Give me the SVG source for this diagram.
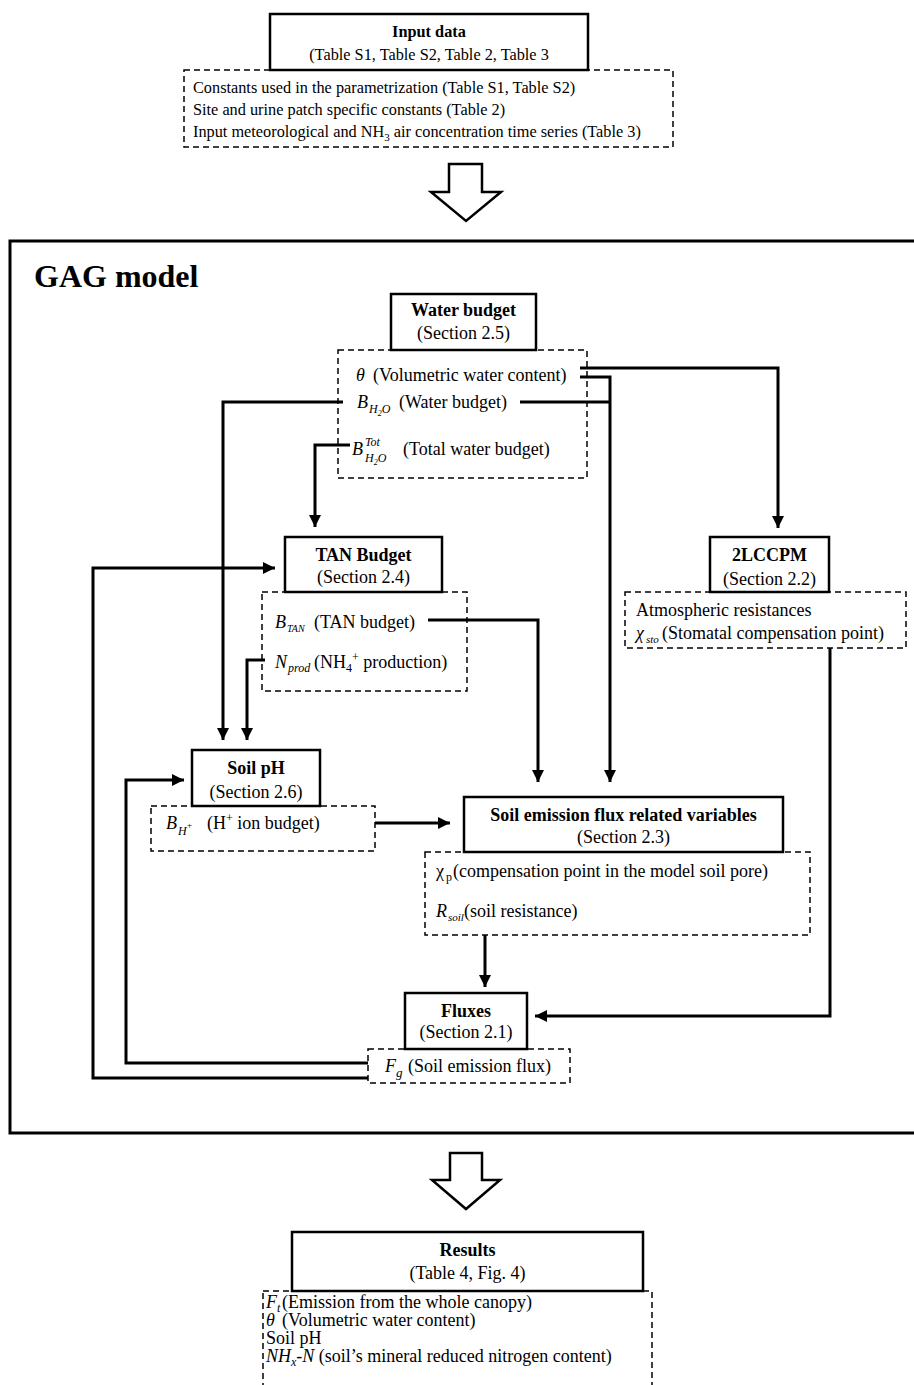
<svg xmlns="http://www.w3.org/2000/svg" width="914" height="1385" viewBox="0 0 914 1385">
<style>
.box{fill:#fff;stroke:#000;stroke-width:2.5}
.dash{fill:none;stroke:#000;stroke-width:1.5;stroke-dasharray:6 4}
.frame{fill:none;stroke:#000;stroke-width:3}
.hollow{fill:#fff;stroke:#000;stroke-width:2.5;stroke-linejoin:miter}
.conn{fill:none;stroke:#000;stroke-width:3}
.t{font-family:"Liberation Serif","Times New Roman",serif;font-size:18px;fill:#000}
.s{font-size:16.3px}
.b{font-weight:bold}
.c{text-anchor:middle}
.i{font-style:italic}
</style>
<defs>
<marker id="ah" markerUnits="userSpaceOnUse" markerWidth="12" markerHeight="12" refX="12" refY="6" orient="auto">
<path d="M0,0 L12,6 L0,12 z" fill="#000"/>
</marker>
</defs>
<rect width="914" height="1385" fill="#fff"/>

<g id="input">
<rect class="dash" x="184" y="70" width="489" height="77"/>
<rect class="box" x="270" y="14" width="318" height="56"/>
<text class="t s b c" x="429" y="37">Input data</text>
<text class="t s c" x="429" y="60">(Table S1, Table S2, Table 2, Table 3</text>
<text class="t s" x="193" y="93">Constants used in the parametrization (Table S1, Table S2)</text>
<text class="t s" x="193" y="115">Site and urine patch specific constants (Table 2)</text>
<text class="t s" x="193" y="137">Input meteorological and NH<tspan style="font-size:11px" dy="4">3</tspan><tspan dy="-4"> air concentration time series (Table 3)</tspan></text>
</g>

<g id="arrow-in">
<polygon class="hollow" points="449,164 482,164 482,192 501,192 466,221 431,192 449,192"/>
</g>

<g id="gag">
<rect class="frame" x="10" y="241" width="930" height="892"/>
<text class="t b" x="34" y="287" style="font-size:32px">GAG model</text>
</g>

<g id="water">
<rect class="dash" x="338" y="350" width="249" height="128"/>
<rect class="box" x="391" y="294" width="145" height="56"/>
<text class="t b c" x="463.5" y="316">Water budget</text>
<text class="t c" x="463.5" y="339">(Section 2.5)</text>
<text class="t i" x="356" y="381">θ</text>
<text class="t" x="373" y="381">(Volumetric water content)</text>
<text class="t i" x="357" y="408">B</text>
<text class="t i" x="369" y="413" style="font-size:12px">H<tspan style="font-size:8px" dy="3">2</tspan><tspan dy="-3">O</tspan></text>
<text class="t" x="399" y="408">(Water budget)</text>
<text class="t i" x="352" y="455">B</text>
<text class="t i" x="365" y="446" style="font-size:12px">Tot</text>
<text class="t i" x="365" y="462" style="font-size:12px">H<tspan style="font-size:8px" dy="3">2</tspan><tspan dy="-3">O</tspan></text>
<text class="t" x="403" y="455">(Total water budget)</text>
</g>

<g id="tan">
<rect class="dash" x="262" y="592" width="205" height="99"/>
<rect class="box" x="285" y="537" width="157" height="55"/>
<text class="t b c" x="363.5" y="561">TAN Budget</text>
<text class="t c" x="363.5" y="583">(Section 2.4)</text>
<text class="t i" x="275" y="628">B</text>
<text class="t i" x="287" y="632" style="font-size:10px">TAN</text>
<text class="t" x="314" y="628">(TAN budget)</text>
<text class="t i" x="275" y="668">N</text>
<text class="t i" x="288" y="672" style="font-size:12px">prod</text>
<text class="t" x="314" y="668">(NH<tspan style="font-size:12px" dy="4">4</tspan><tspan style="font-size:12px" dy="-11">+</tspan><tspan dy="7"> production)</tspan></text>
</g>

<g id="lccpm">
<rect class="dash" x="625" y="592" width="281" height="56"/>
<rect class="box" x="710" y="537" width="119" height="55"/>
<text class="t b c" x="769.5" y="561">2LCCPM</text>
<text class="t c" x="769.5" y="585">(Section 2.2)</text>
<text class="t" x="636" y="616">Atmospheric resistances</text>
<text class="t i" x="636" y="639">χ</text>
<text class="t i" x="646" y="643" style="font-size:11px">sto</text>
<text class="t" x="662" y="639">(Stomatal compensation point)</text>
</g>

<g id="soilph">
<rect class="dash" x="151" y="806" width="224" height="45"/>
<rect class="box" x="192" y="750" width="128" height="56"/>
<text class="t b c" x="256" y="774">Soil pH</text>
<text class="t c" x="256" y="798">(Section 2.6)</text>
<text class="t i" x="166" y="829">B</text>
<text class="t i" x="178" y="835" style="font-size:12px">H</text>
<text class="t" x="187" y="828" style="font-size:9px">+</text>
<text class="t" x="207" y="829">(H<tspan style="font-size:12px" dy="-7">+</tspan><tspan dy="7"> ion budget)</tspan></text>
</g>

<g id="emission">
<rect class="dash" x="425" y="852" width="385" height="83"/>
<rect class="box" x="464" y="797" width="319" height="55"/>
<text class="t b c" x="623.5" y="821">Soil emission flux related variables</text>
<text class="t c" x="623.5" y="843">(Section 2.3)</text>
<text class="t" x="436" y="877">χ</text>
<text class="t" x="446" y="881" style="font-size:12px">p</text>
<text class="t" x="453" y="877">(compensation point in the model soil pore)</text>
<text class="t i" x="436" y="917">R</text>
<text class="t i" x="448" y="921" style="font-size:11px">soil</text>
<text class="t" x="464" y="917">(soil resistance)</text>
</g>

<g id="fluxes">
<rect class="dash" x="368" y="1049" width="202" height="34"/>
<rect class="box" x="405" y="993" width="122" height="56"/>
<text class="t b c" x="466" y="1017">Fluxes</text>
<text class="t c" x="466" y="1038">(Section 2.1)</text>
<text class="t i" x="385" y="1072">F</text>
<text class="t i" x="396" y="1077" style="font-size:13px">g</text>
<text class="t" x="408" y="1072">(Soil emission flux)</text>
</g>

<g id="arrow-out">
<polygon class="hollow" points="450,1153 482,1153 482,1180 500,1180 466,1209 432,1180 450,1180"/>
</g>

<g id="results">
<rect class="dash" x="263" y="1291" width="389" height="120"/>
<rect class="box" x="292" y="1232" width="351" height="59"/>
<text class="t b c" x="467.5" y="1256">Results</text>
<text class="t c" x="467.5" y="1279">(Table 4, Fig. 4)</text>
<text class="t i" x="266" y="1308">F</text>
<text class="t i" x="277" y="1312" style="font-size:12px">t</text>
<text class="t" x="282" y="1308">(Emission from the whole canopy)</text>
<text class="t i" x="266" y="1326">θ</text>
<text class="t" x="282" y="1326">(Volumetric water content)</text>
<text class="t" x="266" y="1344">Soil pH</text>
<text class="t" x="266" y="1362"><tspan class="i">NH</tspan><tspan class="i" style="font-size:12px" dy="4">x</tspan><tspan class="i" dy="-4">-N</tspan> (soil’s mineral reduced nitrogen content)</text>
</g>

<g id="connectors">
<path class="conn" d="M580,368 H778 V528" marker-end="url(#ah)"/>
<path class="conn" d="M580,377 H610 V782" marker-end="url(#ah)"/>
<path class="conn" d="M520,402 H610"/>
<path class="conn" d="M343,402 H223 V740" marker-end="url(#ah)"/>
<path class="conn" d="M350,445 H315 V527" marker-end="url(#ah)"/>
<path class="conn" d="M428,620 H538 V782" marker-end="url(#ah)"/>
<path class="conn" d="M265,660 H247 V740" marker-end="url(#ah)"/>
<path class="conn" d="M375,823 H450" marker-end="url(#ah)"/>
<path class="conn" d="M485,935 V987" marker-end="url(#ah)"/>
<path class="conn" d="M830,648 V1016 H535" marker-end="url(#ah)"/>
<path class="conn" d="M368,1063 H126 V780 H184" marker-end="url(#ah)"/>
<path class="conn" d="M368,1078 H93 V568 H275" marker-end="url(#ah)"/>
</g>
</svg>
